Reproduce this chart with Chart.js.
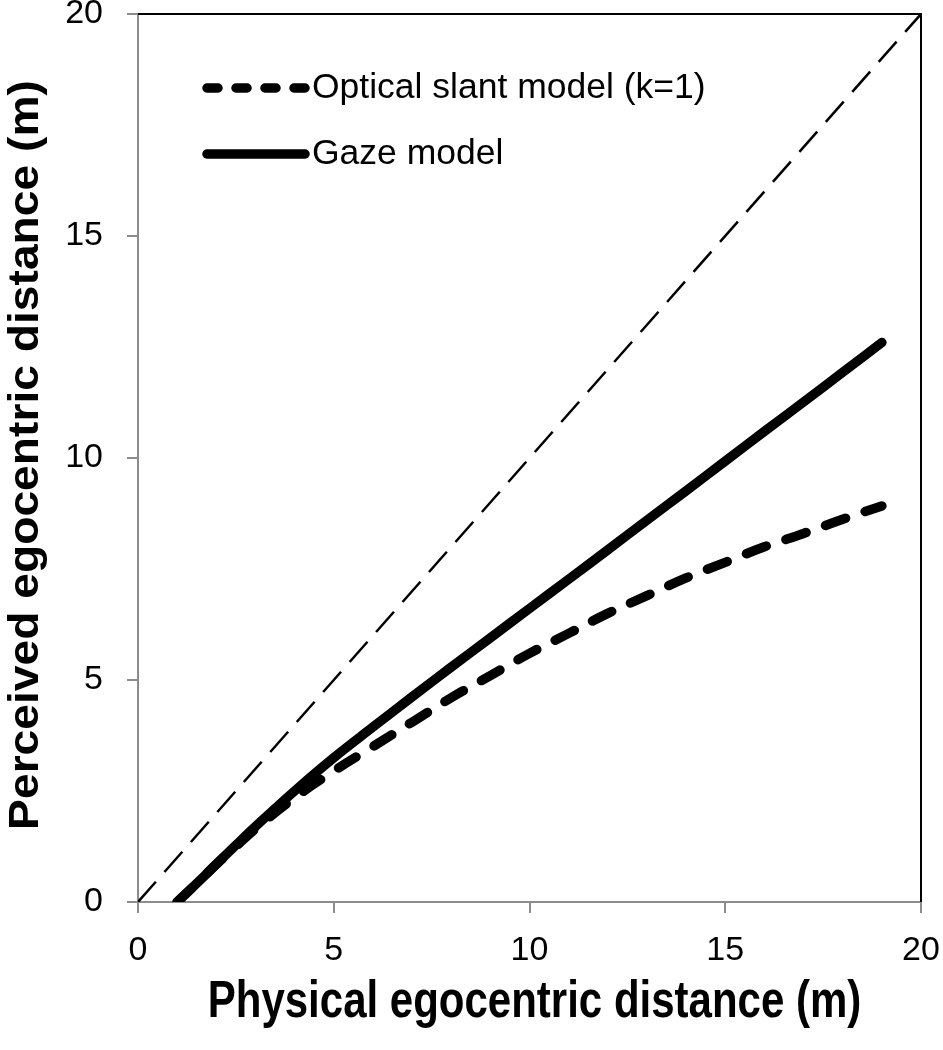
<!DOCTYPE html>
<html><head><meta charset="utf-8">
<script src="https://cdn.jsdelivr.net/npm/chart.js@4.4.1/dist/chart.umd.min.js"></script>
<style>html,body{margin:0;padding:0;background:#fff;}canvas{display:block;}</style>
</head><body>
<canvas id="c" width="943" height="1050"></canvas>
<script>
// ---- data ----
const physicalDistance = [1, 1.5, 2, 2.5, 3, 4, 5, 6, 7, 8, 9, 10, 11, 12, 13, 14, 15, 16, 17, 18, 19];
const gazeModel        = [0, 0.42, 0.85, 1.28, 1.7, 2.5, 3.25, 3.94, 4.62, 5.29, 5.95, 6.61, 7.27, 7.93, 8.6, 9.26, 9.93, 10.6, 11.26, 11.93, 12.6];
const opticalSlant     = [0, 0.42, 0.85, 1.25, 1.65, 2.35, 2.95, 3.5, 4.05, 4.6, 5.1, 5.6, 6.05, 6.5, 6.9, 7.3, 7.65, 8.0, 8.3, 8.62, 8.92];
const identityX = [0, 20];
const identityY = [0, 20];
const axisTicks = [0, 5, 10, 15, 20];
const seriesLabels = ['Optical slant model (k=1)', 'Gaze model'];
const xTitle = 'Physical egocentric distance (m)';
const yTitle = 'Perceived egocentric distance (m)';

const toPts = (xs, ys) => xs.map((x, i) => ({x: x, y: ys[i]}));

const FONT = "'Liberation Sans', Arial, sans-serif";

const framePlugin = {
  id: 'frame',
  beforeDatasetsDraw(chart) {
    const a = chart.chartArea, ctx = chart.ctx;
    ctx.save();
    ctx.strokeStyle = '#000';
    ctx.lineWidth = 2;
    ctx.beginPath();
    ctx.moveTo(a.left, a.top);
    ctx.lineTo(a.right, a.top);
    ctx.lineTo(a.right, a.bottom);
    ctx.stroke();
    ctx.restore();
  }
};

// axis titles drawn as text, slightly stretched like the reference's condensed bold face
const titlePlugin = {
  id: 'axisTitles',
  afterDraw(chart) {
    const a = chart.chartArea, ctx = chart.ctx;
    ctx.save();
    ctx.fillStyle = '#000';
    ctx.font = 'bold 42px ' + FONT;
    ctx.textAlign = 'center';
    ctx.textBaseline = 'middle';
    ctx.translate((a.left + a.right) / 2 + 5, 1003);
    ctx.scale(1, 1.25);
    ctx.fillText(xTitle, 0, 0);
    ctx.restore();

    ctx.save();
    ctx.fillStyle = '#000';
    ctx.font = 'bold 42px ' + FONT;
    ctx.textAlign = 'center';
    ctx.textBaseline = 'middle';
    ctx.translate(26, (a.top + a.bottom) / 2 - 3);
    ctx.rotate(-Math.PI / 2);
    ctx.scale(1.1, 1);
    ctx.fillText(yTitle, 0, 0);
    ctx.restore();
  }
};

const legendPlugin = {
  id: 'innerLegend',
  afterDraw(chart) {
    const a = chart.chartArea, ctx = chart.ctx;
    const x0 = a.left + 69, y0 = a.top + 74, rowH = 66, sampleW = 98;
    let row = 0;
    chart.data.datasets.forEach(ds => {
      if (!ds.inLegend) return;
      const y = y0 + row * rowH;
      ctx.save();
      ctx.strokeStyle = ds.borderColor;
      ctx.lineWidth = ds.borderWidth;
      ctx.lineCap = 'round';
      ctx.setLineDash(ds.legendDash || []);
      ctx.beginPath();
      ctx.moveTo(x0, y);
      ctx.lineTo(x0 + sampleW, y);
      ctx.stroke();
      ctx.setLineDash([]);
      ctx.fillStyle = '#000';
      ctx.font = '35.5px ' + FONT;
      ctx.textBaseline = 'middle';
      ctx.textAlign = 'left';
      ctx.fillText(ds.label, x0 + sampleW + 7, y);
      ctx.restore();
      row++;
    });
  }
};

const axisCommon = () => ({
  type: 'linear',
  min: 0, max: 20,
  afterBuildTicks(scale) { scale.ticks = axisTicks.map(v => ({value: v})); },
  border: {display: true, color: '#8c8c8c', width: 2},
  grid: {drawOnChartArea: false, drawTicks: true, tickLength: 11, color: '#8c8c8c', lineWidth: 2},
  ticks: {font: {family: FONT, size: 34}, color: '#000', maxRotation: 0, autoSkip: false},
  title: {display: false}
});

const xAxis = axisCommon();
xAxis.position = 'bottom';
xAxis.ticks.padding = 17;
xAxis.afterFit = s => { s.height = 148; s.paddingLeft = 0; s.paddingRight = 0; };

const yAxis = axisCommon();
yAxis.position = 'left';
yAxis.ticks.padding = 24;
yAxis.afterFit = s => { s.width = 138; s.paddingTop = 0; s.paddingBottom = 0; };

new Chart(document.getElementById('c'), {
  type: 'line',
  data: {
    datasets: [
      {
        label: 'identity',
        data: toPts(identityX, identityY),
        borderColor: '#000', borderWidth: 2.5, borderDash: [27, 13],
        pointRadius: 0, tension: 0, inLegend: false
      },
      {
        label: seriesLabels[0],
        data: toPts(physicalDistance, opticalSlant),
        borderColor: '#000', borderWidth: 9.5, borderDash: [21, 21], borderCapStyle: 'round',
        legendDash: [11, 18],
        pointRadius: 0, tension: 0.4, inLegend: true
      },
      {
        label: seriesLabels[1],
        data: toPts(physicalDistance, gazeModel),
        borderColor: '#000', borderWidth: 9.5, borderCapStyle: 'round',
        pointRadius: 0, tension: 0.4, inLegend: true
      }
    ]
  },
  options: {
    responsive: false,
    animation: false,
    layout: {padding: {top: 14, right: 22, left: 0, bottom: 0}},
    plugins: {legend: {display: false}, tooltip: {enabled: false}},
    scales: {x: xAxis, y: yAxis}
  },
  plugins: [framePlugin, titlePlugin, legendPlugin]
});
</script>
</body></html>
